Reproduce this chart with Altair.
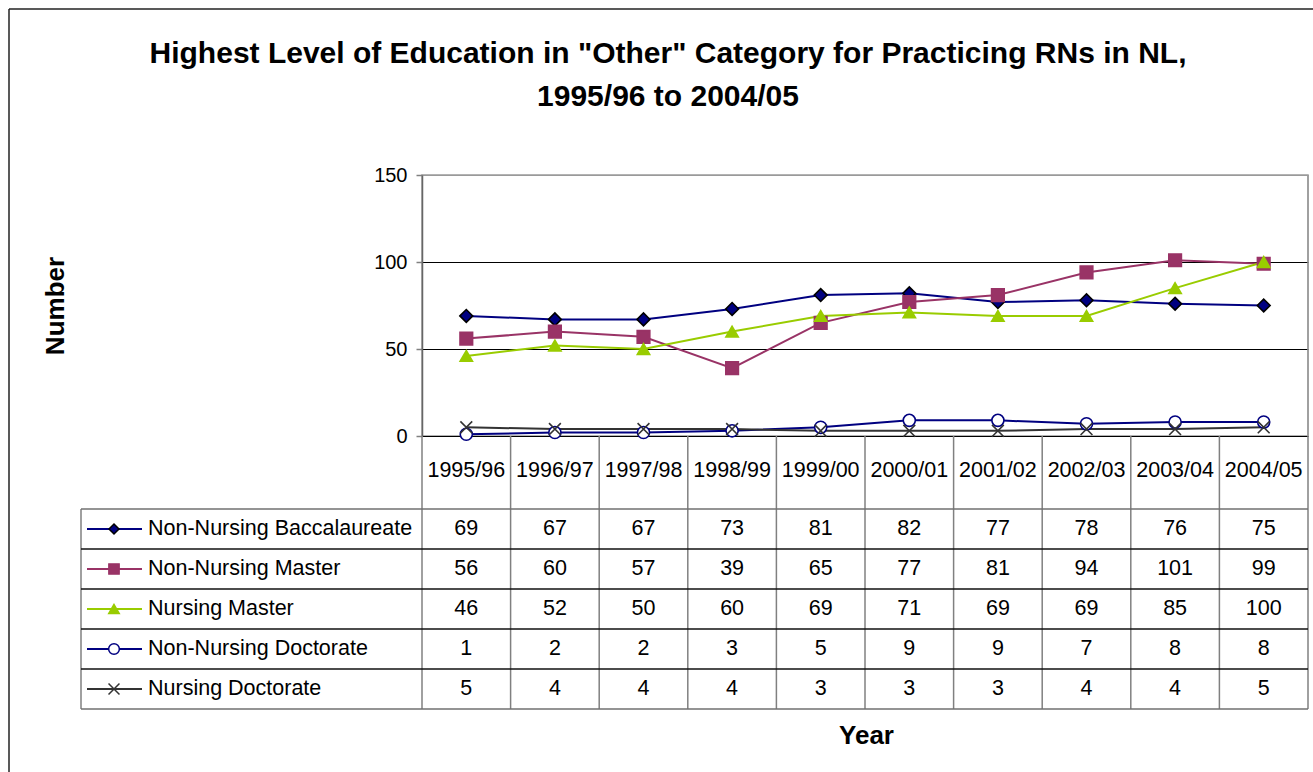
import altair as alt
import pandas as pd

# ---------------- data ----------------
years = ["1995/96", "1996/97", "1997/98", "1998/99", "1999/00",
         "2000/01", "2001/02", "2002/03", "2003/04", "2004/05"]
series = ["Non-Nursing Baccalaureate", "Non-Nursing Master", "Nursing Master",
          "Non-Nursing Doctorate", "Nursing Doctorate"]
non_nursing_bacc = [69, 67, 67, 73, 81, 82, 77, 78, 76, 75]
non_nursing_master = [56, 60, 57, 39, 65, 77, 81, 94, 101, 99]
nursing_master = [46, 52, 50, 60, 69, 71, 69, 69, 85, 100]
non_nursing_doct = [1, 2, 2, 3, 5, 9, 9, 7, 8, 8]
nursing_doct = [5, 4, 4, 4, 3, 3, 3, 4, 4, 5]
y_ticks = [0, 50, 100, 150]
title_lines = ['Highest Level of Education in "Other" Category for Practicing RNs in NL,',
               "1995/96 to 2004/05"]

# ---------------- styles ----------------
line_colors = ["#000080", "#993366", "#99CC00", "#000080", "#333333"]
shapes = ["diamond", "square", "triangle-up", "circle", "M-1,-1L1,1M1,-1L-1,1"]
fills = ["#000080", "#993366", "#99CC00", "#FFFFFF", "transparent"]
strokes = ["#000000", "#993366", "#99CC00", "#000080", "#333333"]
sizes = [165, 140, 220, 85, 240]
legend_sizes = [100, 120, 160, 70, 150]
FONT = "Liberation Sans"

# ---------------- layout ----------------
LEFT, TOP = 422, 175
PLOT_W, PLOT_H = 886, 261
COL = PLOT_W / 10.0
ROW = 40.0
HEADER = 73.0
D = PLOT_H / ROW                 # table units at plot bottom
axis_t = D
header_bottom = axis_t + HEADER / ROW
legend_left = -(LEFT - 81) / COL
leg_line_a = -(LEFT - 87) / COL
leg_line_b = -(LEFT - 142) / COL
leg_marker = -(LEFT - 114) / COL
leg_text = -(LEFT - 148) / COL

values = [non_nursing_bacc, non_nursing_master, nursing_master, non_nursing_doct, nursing_doct]

rows = []
for s, vals in zip(series, values):
    for i, (yr, v) in enumerate(zip(years, vals)):
        rows.append({"series": s, "year": yr, "xi": i + 0.5, "value": v})
long_df = pd.DataFrame(rows)

xscale = alt.Scale(domain=[0, 10], nice=False, zero=False)
yscale = alt.Scale(domain=[0, 150], nice=False, zero=False)
tscale = alt.Scale(domain=[0, D], reverse=True, nice=False, zero=False)

color_enc = alt.Color("series:N", scale=alt.Scale(domain=series, range=line_colors), legend=None)
shape_enc = alt.Shape("series:N", scale=alt.Scale(domain=series, range=shapes), legend=None)
fill_enc = alt.Fill("series:N", scale=alt.Scale(domain=series, range=fills), legend=None)
stroke_enc = alt.Stroke("series:N", scale=alt.Scale(domain=series, range=strokes), legend=None)

y_axis = alt.Axis(
    values=y_ticks, title="Number", labelFont=FONT, labelFontSize=20, labelColor="black",
    labelPadding=9, tickSize=6, tickColor="#808080", tickWidth=1.5,
    domainColor="#666666", domainWidth=1.5,
    grid=True, gridWidth=1,
    gridColor={"condition": {"test": "datum.value == 150", "value": "#9a9a9a"}, "value": "black"},
    titleFont=FONT, titleFontSize=26, titleFontWeight="bold", titleColor="black",
    titleAngle=270, titleX=63 - LEFT, titleY=PLOT_H / 2, titleBaseline="alphabetic",
    titleAlign="center",
)
x_axis = alt.Axis(
    title="Year", labels=False, ticks=False, domain=False, grid=False,
    titleFont=FONT, titleFontSize=26, titleFontWeight="bold", titleColor="black",
    titleX=444, titleY=743 - (TOP + PLOT_H), titleBaseline="alphabetic", titleAlign="center",
)

lines = alt.Chart(long_df).mark_line(strokeWidth=2).encode(
    x=alt.X("xi:Q", scale=xscale, axis=x_axis),
    y=alt.Y("value:Q", scale=yscale, axis=y_axis),
    color=color_enc,
    detail="series:N",
    order="xi:Q",
)
points = alt.Chart(long_df).mark_point(opacity=1, strokeWidth=1.6, fillOpacity=1).encode(
    x=alt.X("xi:Q", scale=xscale),
    y=alt.Y("value:Q", scale=yscale, axis=None),
    shape=shape_enc, fill=fill_enc, stroke=stroke_enc,
    size=alt.Size("series:N", scale=alt.Scale(domain=series, range=sizes), legend=None),
)
plot_right = alt.Chart(pd.DataFrame({"x": [10], "y": [0], "y2": [150]})).mark_rule(
    color="#9a9a9a", strokeWidth=1.5).encode(
    x=alt.X("x:Q", scale=xscale),
    y=alt.Y("y:Q", scale=yscale, axis=None),
    y2="y2:Q",
)

# ---------------- title (as text in the chart frame) ----------------
title_df = pd.DataFrame({"text": title_lines,
                         "x": [(668 - LEFT) / COL] * 2,
                         "t": [(63 - TOP) / ROW, (106 - TOP) / ROW]})
title_layer = alt.Chart(title_df).mark_text(font=FONT, fontSize=30, fontWeight="bold", color="black",
                                            align="center", baseline="alphabetic").encode(
    x=alt.X("x:Q", scale=xscale),
    y=alt.Y("t:Q", scale=tscale, axis=None),
    text="text:N",
)

# ---------------- table ----------------
vlines_df = pd.DataFrame({"x": list(range(11)),
                          "y": [axis_t] * 11, "y2": [header_bottom + 5] * 11})
vlines = alt.Chart(vlines_df).mark_rule(color="#808080", strokeWidth=1.5).encode(
    x=alt.X("x:Q", scale=xscale),
    y=alt.Y("y:Q", scale=tscale, axis=None),
    y2="y2:Q",
)
leftline = alt.Chart(pd.DataFrame({"x": [legend_left], "y": [header_bottom], "y2": [header_bottom + 5]})).mark_rule(
    color="#808080", strokeWidth=1.5).encode(
    x=alt.X("x:Q", scale=xscale),
    y=alt.Y("y:Q", scale=tscale, axis=None),
    y2="y2:Q",
)
outer_df = pd.DataFrame({"y": [header_bottom, header_bottom + 5],
                         "x": [legend_left] * 2, "x2": [10] * 2})
inner_df = pd.DataFrame({"y": [header_bottom + k for k in range(1, 5)],
                         "x": [legend_left] * 4, "x2": [10] * 4})
outer_h = alt.Chart(outer_df).mark_rule(strokeWidth=1.5, color="#707070").encode(
    x=alt.X("x:Q", scale=xscale), x2="x2:Q",
    y=alt.Y("y:Q", scale=tscale, axis=None),
)
inner_h = alt.Chart(inner_df).mark_rule(strokeWidth=1.3, color="#111111").encode(
    x=alt.X("x:Q", scale=xscale), x2="x2:Q",
    y=alt.Y("y:Q", scale=tscale, axis=None),
)

header_df = pd.DataFrame({"year": years, "xi": [i + 0.5 for i in range(10)],
                          "t": [axis_t + HEADER / ROW / 2 - 0.05] * 10})
header = alt.Chart(header_df).mark_text(font=FONT, fontSize=21.5, baseline="middle", color="black").encode(
    x=alt.X("xi:Q", scale=xscale),
    y=alt.Y("t:Q", scale=tscale, axis=None),
    text="year:N",
)

cell_rows = []
for r, (s, vals) in enumerate(zip(series, values)):
    for i, v in enumerate(vals):
        cell_rows.append({"series": s, "xi": i + 0.5, "t": header_bottom + r + 0.5, "value": str(v)})
cells_df = pd.DataFrame(cell_rows)
cells = alt.Chart(cells_df).mark_text(font=FONT, fontSize=21.5, baseline="middle", color="black").encode(
    x=alt.X("xi:Q", scale=xscale),
    y=alt.Y("t:Q", scale=tscale, axis=None),
    text="value:N",
)

leg_df = pd.DataFrame({"series": series,
                       "t": [header_bottom + r + 0.5 for r in range(5)],
                       "xa": [leg_line_a] * 5, "xb": [leg_line_b] * 5,
                       "xm": [leg_marker] * 5, "xt": [leg_text] * 5})
leg_lines = alt.Chart(leg_df).mark_rule(strokeWidth=2).encode(
    x=alt.X("xa:Q", scale=xscale), x2="xb:Q",
    y=alt.Y("t:Q", scale=tscale, axis=None),
    color=color_enc,
)
leg_points = alt.Chart(leg_df).mark_point(opacity=1, strokeWidth=1.5, fillOpacity=1).encode(
    x=alt.X("xm:Q", scale=xscale),
    y=alt.Y("t:Q", scale=tscale, axis=None),
    shape=shape_enc, fill=fill_enc, stroke=stroke_enc,
    size=alt.Size("series:N", scale=alt.Scale(domain=series, range=legend_sizes), legend=None),
)
leg_text_layer = alt.Chart(leg_df).mark_text(font=FONT, fontSize=21.5, baseline="middle", align="left",
                                             color="black").encode(
    x=alt.X("xt:Q", scale=xscale),
    y=alt.Y("t:Q", scale=tscale, axis=None),
    text="series:N",
)

# outer chart frame (top and left edges visible)
fx = -(LEFT - 9) / COL
fy = -(TOP - 9) / ROW
frame_top = alt.Chart(pd.DataFrame({"x": [fx], "x2": [10.2], "y": [fy]})).mark_rule(
    color="#222222", strokeWidth=1.5).encode(
    x=alt.X("x:Q", scale=xscale), x2="x2:Q",
    y=alt.Y("y:Q", scale=tscale, axis=None),
)
frame_left = alt.Chart(pd.DataFrame({"x": [fx], "y": [fy], "y2": [16]})).mark_rule(
    color="#222222", strokeWidth=1.5).encode(
    x=alt.X("x:Q", scale=xscale),
    y=alt.Y("y:Q", scale=tscale, axis=None), y2="y2:Q",
)

chart = alt.layer(
    lines, points, plot_right, title_layer,
    vlines, leftline, outer_h, inner_h, header, cells, leg_lines, leg_points, leg_text_layer,
    frame_top, frame_left,
).resolve_scale(y="independent", size="independent").properties(
    width=PLOT_W, height=PLOT_H,
    padding={"left": LEFT, "top": TOP, "right": 1313 - LEFT - PLOT_W, "bottom": 772 - TOP - PLOT_H},
    autosize=alt.AutoSizeParams(type="none"),
    background="white",
).configure_view(stroke="#9a9a9a", strokeWidth=1.5)

chart.save("out.html", embed_options={"renderer": "svg", "actions": False})
